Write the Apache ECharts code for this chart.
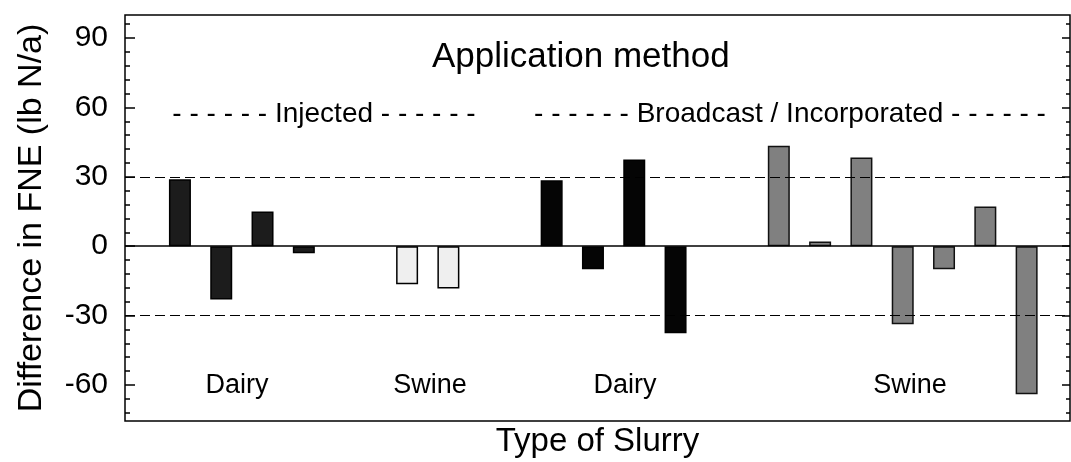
<!DOCTYPE html>
<html>
<head>
<meta charset="utf-8">
<script src="https://cdn.jsdelivr.net/npm/echarts@6/dist/echarts.min.js"></script>
<style>
    html, body { margin: 0; padding: 0; background: #fff; }
    #chart { width: 1071px; height: 462px; }
</style>
</head>
<body>
<div id="chart"></div>
<script>
// bar slot positions along the x axis (one slot = half a bar spacing)
const dairyInjectedPos = [0, 2, 4, 6];
const swineInjectedPos = [11, 13];
const dairyBroadcastPos = [18, 20, 22, 24];
const swineBroadcastPos = [29, 31, 33, 35, 37, 39, 41];

// difference in FNE (lb N/a)
const dairyInjected = [29, -23, 15, -3];
const swineInjected = [-16.5, -18.3];
const dairyBroadcast = [28.5, -10, 37.5, -37.7];
const swineBroadcast = [43.4, 2, 38.4, -33.8, -10, 17.2, -64];

const majorTicks = [-60, -30, 0, 30, 60, 90];
const minorTicks = [-72, -66, -54, -48, -42, -36, -24, -18, -12, -6,
    6, 12, 18, 24, 36, 42, 48, 54, 66, 72, 78, 84, 96];

const font = "'Liberation Sans', Arial, sans-serif";

function pairs(pos, vals) {
    return pos.map((p, i) => [p, vals[i]]);
}

function barSeries(name, pos, vals, color, border) {
    return {
        name: name,
        type: 'bar',
        barWidth: 22,
        barGap: '-100%',
        data: pairs(pos, vals),
        itemStyle: {
            color: color,
            borderColor: border,
            borderWidth: 1.5
        },
        silent: true
    };
}

function yAxisDef(position, values, len, labels) {
    return {
        type: 'value',
        position: position,
        min: -75.6,
        max: 100,
        axisLine: { show: false, onZero: false },
        splitLine: { show: false },
        axisTick: {
            show: true,
            inside: true,
            length: len,
            customValues: values,
            lineStyle: { color: '#000', width: 1.5 }
        },
        axisLabel: labels ? {
            show: true,
            customValues: values,
            fontSize: 30,
            fontFamily: font,
            color: '#000',
            margin: 17
        } : { show: false }
    };
}

const chart = echarts.init(document.getElementById('chart'));

const leftAxis = yAxisDef('left', majorTicks, 10, true);
leftAxis.name = 'Difference in FNE (lb N/a)';
leftAxis.nameLocation = 'middle';
leftAxis.nameGap = 76;
leftAxis.nameTextStyle = { fontSize: 34, fontFamily: font, color: '#000' };

const option = {
    animation: false,
    grid: {
        left: 125,
        right: 1,
        top: 15,
        bottom: 41,
        outerBoundsMode: 'none',
        show: true,
        borderColor: '#000',
        borderWidth: 1.5
    },
    xAxis: {
        type: 'value',
        min: -2.66,
        max: 43.1,
        axisLine: { show: false, onZero: false },
        axisTick: { show: false },
        axisLabel: { show: false },
        splitLine: { show: false },
        name: 'Type of Slurry',
        nameLocation: 'middle',
        nameGap: 4,
        nameTextStyle: { fontSize: 33, fontFamily: font, color: '#000', verticalAlign: 'top' }
    },
    yAxis: [
        leftAxis,
        yAxisDef('left', minorTicks, 5, false),
        yAxisDef('right', majorTicks, 8, false),
        yAxisDef('right', minorTicks, 4, false)
    ],
    graphic: [
        { type: 'text', left: 432, top: 40, style: { text: 'Application method', font: '35px ' + font, fill: '#000' } },
        { type: 'text', x: 324, y: 114, style: { text: '- - - - - - Injected - - - - - -', font: '28px ' + font, fill: '#000', align: 'center', verticalAlign: 'middle' } },
        { type: 'text', x: 790, y: 114, style: { text: '- - - - - - Broadcast / Incorporated - - - - - -', font: '28px ' + font, fill: '#000', align: 'center', verticalAlign: 'middle' } },
        { type: 'text', x: 237, y: 386, style: { text: 'Dairy', font: '27px ' + font, fill: '#000', align: 'center', verticalAlign: 'middle' } },
        { type: 'text', x: 430, y: 386, style: { text: 'Swine', font: '27px ' + font, fill: '#000', align: 'center', verticalAlign: 'middle' } },
        { type: 'text', x: 625, y: 386, style: { text: 'Dairy', font: '27px ' + font, fill: '#000', align: 'center', verticalAlign: 'middle' } },
        { type: 'text', x: 910, y: 386, style: { text: 'Swine', font: '27px ' + font, fill: '#000', align: 'center', verticalAlign: 'middle' } }
    ],
    series: [
        Object.assign(barSeries('Dairy injected', dairyInjectedPos, dairyInjected, '#1c1c1c', '#000'), {
            markLine: {
                silent: true,
                symbol: 'none',
                label: { show: false },
                data: [
                    { yAxis: 30, lineStyle: { type: [10, 5], color: '#000', width: 1.2 } },
                    { yAxis: -30, lineStyle: { type: [10, 5], color: '#000', width: 1.2 } },
                    { yAxis: 0, lineStyle: { type: 'solid', color: '#000', width: 1.5 } }
                ]
            }
        }),
        barSeries('Swine injected', swineInjectedPos, swineInjected, '#efefef', '#000'),
        barSeries('Dairy broadcast', dairyBroadcastPos, dairyBroadcast, '#050505', '#000'),
        barSeries('Swine broadcast', swineBroadcastPos, swineBroadcast, '#808080', '#111')
    ]
};

chart.setOption(option);
</script>
</body>
</html>
